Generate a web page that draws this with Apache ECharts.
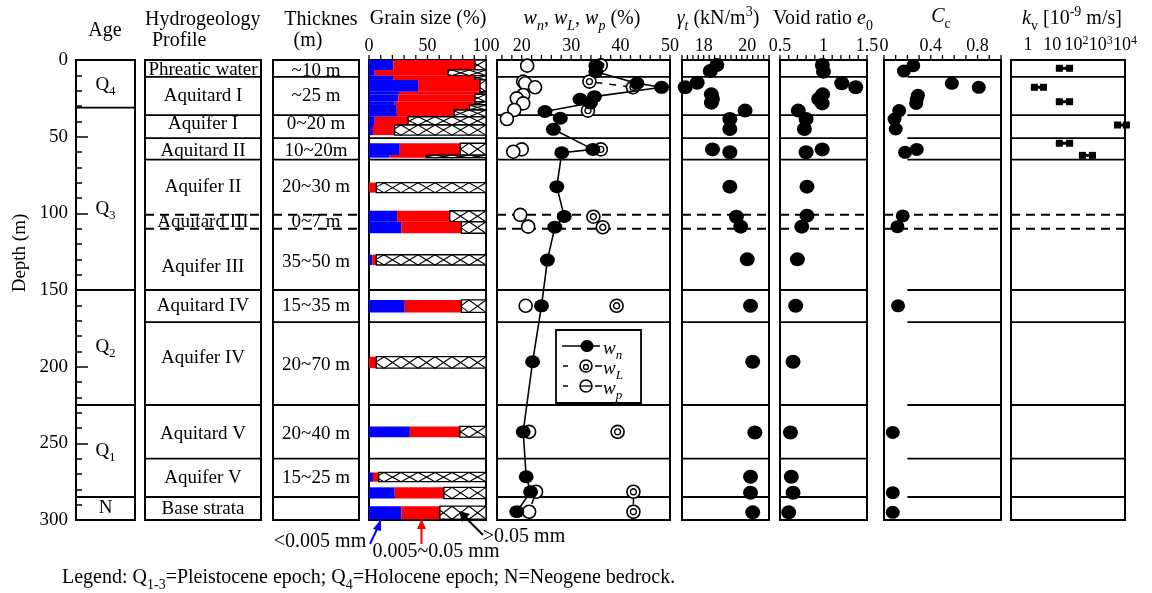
<!DOCTYPE html>
<html><head><meta charset="utf-8">
<script src="https://cdn.jsdelivr.net/npm/echarts@6/dist/echarts.min.js"></script>
<style>html,body{margin:0;padding:0;background:#fff}#c{width:1152px;height:593px}</style>
</head><body><div id="c"></div>
<script>
// ================= DATA =================
const layerBounds = [11, 36, 51, 65, 150, 171, 225, 260, 285];
const dashedBounds = [101, 110];
const ageBounds = [31, 150, 225, 285];
const ageLabels = ['{n|Q}{b|4}', '{n|Q}{b|3}', '{n|Q}{b|2}', '{n|Q}{b|1}', '{n|N}'];
const ageLabelDepth = [16, 97, 187, 255, 292];
const profileNames = ['Phreatic water','Aquitard I','Aquifer I','Aquitard II','Aquifer II','Aquitard III','Aquifer III','Aquitard IV','Aquifer IV','Aquitard V','Aquifer V','Base strata'];
const profileDepth = [6.5, 23.5, 41.7, 59.4, 82.8, 105.7, 135, 160.5, 194.4, 244, 272.7, 292.9];
const thicknessTexts = ['~10 m','~25 m','0~20 m','10~20m','20~30 m','0~7 m','35~50 m','15~35 m','20~70 m','20~40 m','15~25 m'];
const thicknessDepth = [7.2, 23.5, 41.7, 59.4, 82.8, 105.7, 131.8, 160.5, 198.9, 244, 272.7];

// grain size rows: depth top/bottom, clay (<0.005mm) %, silt (0.005~0.05mm) %; rest = sand (>0.05mm)
const grainTop    = [0, 6.5, 10.2, 13, 20.7, 22.4, 27.2, 29.3, 32.6, 37, 42.4, 54.3, 62, 80, 98.3, 105.5, 127, 156.5, 193.5, 239, 269, 278.7, 291];
const grainBottom = [6.5, 10.2, 13, 20.7, 22.4, 27.2, 29.3, 32.6, 37, 42.4, 49, 62, 63.7, 86.5, 105.5, 113, 133.7, 164.6, 201, 246, 275, 286, 299.5];
const grainClay   = [20.8, 4.9, 20.8, 42, 26.3, 25, 22, 23.7, 23.7, 4.9, 3.4, 26.3, 17.7, 0, 24, 27.7, 2.9, 30.6, 0, 34.9, 3.4, 22, 27.7];
const grainSilt   = [69.8, 62.8, 69.8, 52.9, 68.6, 65.6, 68.6, 62.3, 49.2, 28.5, 18.6, 51.7, 31.3, 6.3, 45, 51.3, 3.4, 48.4, 6.3, 42.8, 4.9, 42, 32.9];

const wnDepth = [3.7, 7.6, 15.2, 17.8, 23.9, 25.6, 28, 33.6, 38, 45.2, 58.3, 60.5, 82.6, 102, 109, 130.5, 160.3, 196.8, 242.5, 271.8, 281.6, 294.6];
const wnValue = [35, 35, 43.3, 48.3, 34.7, 31.8, 33.9, 24.7, 27.8, 26.4, 34.4, 28.1, 27.1, 28.6, 26.7, 25.2, 24, 22.2, 20.3, 20.9, 21.8, 19];
const wLDepth = [3.5, 14.1, 17.8, 33, 58.3, 102.2, 109.1, 160.3, 242.5, 281.6, 294.6];
const wLValue = [36, 33.7, 42.5, 33.4, 36, 34.5, 36.4, 39.2, 39.4, 42.6, 42.6];
const wLLinks = [[1, 2], [9, 10]];
const wpDepth = [3.7, 14.1, 15.2, 17.8, 22.8, 25, 28.3, 32.6, 38.5, 58.3, 59.8, 101, 108.7, 160.3, 242.5, 281.6, 294.6];
const wpValue = [21.1, 20.3, 20.7, 22.7, 20.3, 19, 20.3, 18.5, 17, 20, 18.3, 19.7, 21.3, 20.8, 21.5, 22.9, 21.5];
const wpLinks = [[15, 16]];

const gammaDepth = [3.3, 7.2, 14.8, 17.8, 22.4, 25.4, 27.8, 33, 38.5, 45, 58.3, 60.2, 82.6, 102.2, 108.7, 130, 160.3, 196.8, 242.9, 271.8, 282.2, 295];
const gammaValue = [18.6, 18.3, 17.7, 17.15, 18.35, 18.4, 18.35, 19.9, 19.2, 19.2, 18.4, 19.2, 19.2, 19.5, 19.7, 20, 20.15, 20.25, 20.35, 20.15, 20.15, 20.25];
const e0Depth = [3.3, 7.6, 15.2, 17.8, 22.4, 25.4, 28.3, 33, 38.5, 45, 58.3, 60.2, 82.6, 101.5, 108.7, 130, 160.3, 196.8, 242.9, 271.8, 282.2, 295];
const e0Value = [0.987, 1.0, 1.21, 1.37, 0.99, 0.945, 0.985, 0.71, 0.80, 0.78, 0.985, 0.80, 0.81, 0.81, 0.75, 0.70, 0.68, 0.65, 0.62, 0.63, 0.65, 0.60];
const ccDepth = [3.7, 7.2, 15.2, 17.8, 23, 25.6, 28.3, 33, 38.5, 45, 58.3, 60.2, 101.7, 108.7, 160.3, 242.9, 282.2, 295];
const ccValue = [0.25, 0.17, 0.58, 0.81, 0.29, 0.28, 0.275, 0.13, 0.09, 0.10, 0.28, 0.18, 0.16, 0.115, 0.12, 0.075, 0.075, 0.075];
// kv [1e-9 m/s], log10 range per layer
const kvDepth = [5.4, 17.8, 27.2, 42.4, 54.3, 62.2];
const kvLogLow = [1.15, 0.12, 1.15, 3.55, 1.15, 2.1];
const kvLogHigh = [1.86, 0.78, 1.86, 4.2, 1.86, 2.8];

// axis tick labels
const grainTicks = [0, 50, 100];
const wTicks = [20, 30, 40, 50];
const gammaTicks = [18, 20];
const e0Ticks = [0.5, 1, 1.5];
const ccTicks = [0, 0.4, 0.8];
const kvTicks = [0, 1, 2, 3, 4];
const kvTickText = ['{a|1}', '{a|10}', '{a|10}{s|2}', '{a|10}{s|3}', '{a|10}{s|4}'];

// ================= LAYOUT / STYLE =================
const FONT = '"Liberation Serif","Times New Roman",serif';
const TOP = 60, H = 460;
const grids = [
  {left: 76, width: 59}, {left: 145, width: 116}, {left: 273, width: 86},
  {left: 369, width: 117}, {left: 497, width: 173}, {left: 682, width: 87},
  {left: 780, width: 87}, {left: 884, width: 117}, {left: 1011, width: 114}
];
const xRanges = [[0,1],[0,1],[0,1],[0,100],[15,50],[17,21],[0.5,1.5],[0,1],[-0.7,4]];
// minor tick spacing along the top of each panel: [start, end, step]
const tickSpec = [null, null, null, [0, 100, 10], [16, 50, 2], [17, 21, 0.25], [0.5, 1.5, 0.1], [0, 1, 0.1], null];
const labelSets = [null, null, null, grainTicks, wTicks, gammaTicks, e0Ticks, ccTicks, kvTicks];

function rs(fs) {
  const lh = fs + 8;
  const sm = Math.round(fs * 0.68), sl = Math.round(fs * 0.7);
  return {
    n: {fontSize: fs, fontFamily: FONT, color: '#000', fill: '#000', lineHeight: lh},
    i: {fontSize: fs, fontFamily: FONT, fontStyle: 'italic', color: '#000', fill: '#000', lineHeight: lh},
    b: {fontSize: sm, fontFamily: FONT, color: '#000', fill: '#000', lineHeight: sl, verticalAlign: 'bottom'},
    bi: {fontSize: sm, fontFamily: FONT, fontStyle: 'italic', color: '#000', fill: '#000', lineHeight: sl, verticalAlign: 'bottom'},
    p: {fontSize: sm, fontFamily: FONT, color: '#000', fill: '#000', lineHeight: sl, verticalAlign: 'top'}
  };
}
const kvRich = {
  a: {fontSize: 18, fontFamily: FONT, color: '#000', lineHeight: 20},
  s: {fontSize: 12, fontFamily: FONT, color: '#000', lineHeight: 10, verticalAlign: 'top'}
};

const gridOpt = grids.map(g => ({left: g.left, width: g.width, top: TOP, height: H, show: true, borderColor: '#000', borderWidth: 2, containLabel: false}));
const xAxisOpt = grids.map((g, i) => {
  const base = {gridIndex: i, type: 'value', min: xRanges[i][0], max: xRanges[i][1], position: 'top', splitLine: {show: false}};
  if (i < 3) return Object.assign(base, {show: false});
  return Object.assign(base, {
    axisLine: {show: true, lineStyle: {color: '#000', width: 2}},
    axisTick: {show: false},
    axisLabel: {show: true, customValues: labelSets[i], color: '#000', fontSize: 18, fontFamily: FONT, margin: 5,
      formatter: i === 8 ? (v => kvTickText[Math.round(v)]) : (v => String(v)), rich: i === 8 ? kvRich : undefined}
  });
});
const yAxisOpt = grids.map((g, i) => ({
  gridIndex: i, type: 'value', min: 0, max: 300, inverse: true, interval: 50, show: i === 0,
  axisLine: {show: false},
  axisTick: {show: true, inside: true, length: 12, lineStyle: {color: '#000', width: 1.5}},
  minorTick: {show: true, splitNumber: 5, length: 6, lineStyle: {color: '#000', width: 1.5}},
  axisLabel: {color: '#000', fontSize: 19, fontFamily: FONT, margin: 8},
  splitLine: {show: false}, minorSplitLine: {show: false}
}));

// ================= SERIES =================
const series = [];
function hLines(gi, xFrom, xTo, depths, dashed) {
  series.push({
    type: 'custom', xAxisIndex: gi, yAxisIndex: gi, silent: true, z: 1,
    data: depths.map(d => [d]),
    renderItem: (p, api) => {
      const a = api.coord([xFrom, api.value(0)]), b = api.coord([xTo, api.value(0)]);
      return {type: 'line', shape: {x1: a[0], y1: a[1], x2: b[0], y2: b[1]},
        style: {stroke: '#000', lineWidth: dashed ? 2 : 1.8, lineDash: dashed ? [9, 6] : null}};
    }
  });
}
function texts(gi, xv, depths, labels, fs) {
  series.push({
    type: 'custom', xAxisIndex: gi, yAxisIndex: gi, silent: true, z: 5,
    data: depths.map(d => [xv, d]),
    renderItem: (p, api) => {
      const c = api.coord([api.value(0), api.value(1)]);
      const t = labels[p.dataIndex];
      return {type: 'text', x: c[0], y: c[1],
        style: {text: t.indexOf('{') === 0 ? t : '{n|' + t + '}', align: 'center', verticalAlign: 'middle', rich: rs(fs), fill: '#000'}};
    }
  });
}
// top-edge ticks of each data panel, placed through the panel's own x scale
tickSpec.forEach((t, gi) => {
  if (!t) return;
  const vals = [];
  for (let k = 0; t[0] + k * t[2] <= t[1] + 1e-9; k++) vals.push(t[0] + k * t[2]);
  series.push({
    type: 'custom', xAxisIndex: gi, yAxisIndex: gi, silent: true, z: 6, clip: false,
    data: vals.map(v => [v]),
    renderItem: (p, api) => {
      const c = api.coord([api.value(0), 0]);
      return {type: 'line', shape: {x1: c[0], y1: c[1], x2: c[0], y2: c[1] - 5}, style: {stroke: '#000', lineWidth: 1.3}};
    }
  });
});
// age column
hLines(0, 0, 1, ageBounds, false);
texts(0, 0.5, ageLabelDepth, ageLabels, 19);
// profile & thickness
hLines(1, 0, 1, layerBounds, false); hLines(1, 0, 1, dashedBounds, true);
texts(1, 0.5, profileDepth, profileNames, 19);
hLines(2, 0, 1, layerBounds, false); hLines(2, 0, 1, dashedBounds, true);
texts(2, 0.5, thicknessDepth, thicknessTexts, 19);
// grain size
hLines(3, 0, 100, layerBounds, false);
series.push({
  type: 'custom', xAxisIndex: 3, yAxisIndex: 3, silent: true, z: 3,
  data: grainTop.map((t, i) => [t, grainBottom[i], grainClay[i], grainSilt[i]]),
  renderItem: (p, api) => {
    const t = api.value(0), b = api.value(1), cl = api.value(2), si = api.value(3);
    const p0 = api.coord([0, t]), p1 = api.coord([cl, b]), p2 = api.coord([cl + si, t]), p3 = api.coord([100, b]);
    const y0 = p0[1], y1 = p1[1];
    const ch = [];
    if (cl > 0) ch.push({type: 'rect', shape: {x: p0[0], y: y0, width: p1[0] - p0[0], height: y1 - y0}, style: {fill: '#0000ff'}});
    if (si > 0) ch.push({type: 'rect', shape: {x: p1[0], y: y0, width: p2[0] - p1[0], height: y1 - y0}, style: {fill: '#ff0000'}});
    const xs = p2[0], xe = p3[0];
    ch.push({type: 'rect', shape: {x: xs, y: y0, width: xe - xs, height: y1 - y0}, style: {fill: '#fff', stroke: '#000', lineWidth: 1.3}});
    const w = 17;
    function seg(xa, ya, xb, yb) {
      let ax = xa, ay = ya, bx = xb, by = yb;
      if (bx < xs) return; if (ax > xe) return;
      if (ax < xs) { ay = ay + (by - ay) * (xs - ax) / (bx - ax); ax = xs; }
      if (bx > xe) { by = ay + (by - ay) * (xe - ax) / (bx - ax); bx = xe; }
      ch.push({type: 'line', shape: {x1: ax, y1: ay, x2: bx, y2: by}, style: {stroke: '#000', lineWidth: 1.1}});
    }
    for (let x = xe; x > xs - w; x -= w) {
      seg(x - w, y0, x, y1);
      seg(x - w, y1, x, y0);
    }
    return {type: 'group', children: ch};
  }
});
// w panel
hLines(4, 15, 50, layerBounds, false); hLines(4, 15, 50, dashedBounds, true);
function linkData(depths, vals, links) {
  const d = [];
  links.forEach(l => { d.push([vals[l[0]], depths[l[0]]], [vals[l[1]], depths[l[1]]], ['-', '-']); });
  return d;
}
const solid = {color: '#000', opacity: 1};
series.push({type: 'line', xAxisIndex: 4, yAxisIndex: 4, z: 3, symbol: 'none', silent: true,
  data: linkData(wLDepth, wLValue, wLLinks), lineStyle: {color: '#000', width: 1.5, type: [7, 7], dashOffset: -6}});
series.push({type: 'line', xAxisIndex: 4, yAxisIndex: 4, z: 3, symbol: 'none', silent: true,
  data: linkData(wpDepth, wpValue, wpLinks), lineStyle: {color: '#000', width: 1.5, type: [7, 7], dashOffset: -6}});
series.push({type: 'scatter', xAxisIndex: 4, yAxisIndex: 4, z: 4, symbol: 'circle', symbolSize: 13,
  data: wpValue.map((v, i) => [v, wpDepth[i]]), itemStyle: {color: '#fff', borderColor: '#000', borderWidth: 1.6, opacity: 1}});
series.push({type: 'scatter', xAxisIndex: 4, yAxisIndex: 4, z: 4, symbol: 'circle', symbolSize: 13,
  data: wLValue.map((v, i) => [v, wLDepth[i]]), itemStyle: {color: '#fff', borderColor: '#000', borderWidth: 1.6, opacity: 1}});
series.push({type: 'scatter', xAxisIndex: 4, yAxisIndex: 4, z: 4, symbol: 'circle', symbolSize: 6,
  data: wLValue.map((v, i) => [v, wLDepth[i]]), itemStyle: {color: '#fff', borderColor: '#000', borderWidth: 1.4, opacity: 1}});
series.push({type: 'line', xAxisIndex: 4, yAxisIndex: 4, z: 5, symbol: 'circle', symbolSize: [15, 13],
  data: wnValue.map((v, i) => [v, wnDepth[i]]), lineStyle: {color: '#000', width: 1.6},
  itemStyle: {color: '#000', borderWidth: 0, opacity: 1}, showSymbol: true});
// gamma, e0, Cc
[[5, 17, 21, gammaDepth, gammaValue], [6, 0.5, 1.5, e0Depth, e0Value]].forEach(s => {
  hLines(s[0], s[1], s[2], layerBounds, false); hLines(s[0], s[1], s[2], dashedBounds, true);
  series.push({type: 'scatter', xAxisIndex: s[0], yAxisIndex: s[0], z: 4, symbol: 'circle', symbolSize: [15, 14],
    data: s[4].map((v, i) => [v, s[3][i]]), itemStyle: solid});
});
hLines(7, 0.2, 1, layerBounds, false); hLines(7, 0, 1, dashedBounds, true);
series.push({type: 'scatter', xAxisIndex: 7, yAxisIndex: 7, z: 4, symbol: 'circle', symbolSize: [14, 13],
  data: ccValue.map((v, i) => [v, ccDepth[i]]), itemStyle: solid});
// kv
hLines(8, -0.7, 4, layerBounds, false); hLines(8, -0.7, 4, dashedBounds, true);
series.push({
  type: 'custom', xAxisIndex: 8, yAxisIndex: 8, silent: true, z: 4,
  data: kvDepth.map((d, i) => [kvLogLow[i], kvLogHigh[i], d]),
  renderItem: (p, api) => {
    const a = api.coord([api.value(0), api.value(2)]), b = api.coord([api.value(1), api.value(2)]);
    const sq = 7, hh = 7;
    return {type: 'group', children: [
      {type: 'line', shape: {x1: a[0], y1: a[1], x2: b[0], y2: b[1]}, style: {stroke: '#000', lineWidth: 3}},
      {type: 'rect', shape: {x: a[0], y: a[1] - hh / 2, width: sq, height: hh}, style: {fill: '#000'}},
      {type: 'rect', shape: {x: b[0] - sq, y: b[1] - hh / 2, width: sq, height: hh}, style: {fill: '#000'}}
    ]};
  }
});

// ================= GRAPHICS (titles, legend, annotations) =================
function gtext(x, y, t, fs, align, extra) {
  return Object.assign({type: 'text', x: x, y: y, z: 10, silent: true,
    style: {text: t, align: align || 'center', verticalAlign: 'middle', rich: rs(fs), fill: '#000'}}, extra || {});
}
const graphics = [
  gtext(105, 31, '{n|Age}', 20),
  gtext(145, 20, '{n|Hydrogeology}', 20, 'left'),
  gtext(152, 41, '{n|Profile}', 20, 'left'),
  gtext(321, 20, '{n|Thicknes}', 20),
  gtext(308, 41, '{n|(m)}', 20),
  gtext(428, 19, '{n|Grain size (%)}', 20),
  gtext(582, 19, '{i|w}{bi|n}{n|, }{i|w}{bi|L}{n|, }{i|w}{bi|p}{n| (%)}', 20),
  gtext(718, 19, '{i|γ}{bi|t}{n| (kN/m}{p|3}{n|)}', 20),
  gtext(823, 19, '{n|Void ratio }{i|e}{b|0}', 20),
  gtext(941, 17, '{i|C}{b|c}', 20),
  gtext(1072, 19, '{i|k}{b|v}{n| [10}{p|-9}{n| m/s]}', 20),
  gtext(20, 253, '{n|Depth (m)}', 19, 'center', {rotation: Math.PI / 2}),
  // w legend box
  {type: 'rect', z: 10, shape: {x: 556, y: 330, width: 85, height: 73}, style: {fill: '#fff', stroke: '#000', lineWidth: 1.8}},
  {type: 'line', z: 11, shape: {x1: 562, y1: 346, x2: 600, y2: 346}, style: {stroke: '#000', lineWidth: 1.6}},
  {type: 'ellipse', z: 11, shape: {cx: 587, cy: 346, rx: 6.5, ry: 6}, style: {fill: '#000'}},
  gtext(603, 349, '{i|w}{bi|n}', 19, 'left'),
  {type: 'line', z: 11, shape: {x1: 563, y1: 366, x2: 568, y2: 366}, style: {stroke: '#000', lineWidth: 1.5}},
  {type: 'line', z: 11, shape: {x1: 595, y1: 366, x2: 602, y2: 366}, style: {stroke: '#000', lineWidth: 1.5}},
  {type: 'circle', z: 11, shape: {cx: 586, cy: 366, r: 6}, style: {fill: '#fff', stroke: '#000', lineWidth: 1.6}},
  {type: 'circle', z: 11, shape: {cx: 586, cy: 367, r: 2.5}, style: {fill: '#fff', stroke: '#000', lineWidth: 1.3}},
  gtext(603, 369, '{i|w}{bi|L}', 19, 'left'),
  {type: 'line', z: 11, shape: {x1: 563, y1: 386, x2: 568, y2: 386}, style: {stroke: '#000', lineWidth: 1.5}},
  {type: 'line', z: 11, shape: {x1: 595, y1: 386, x2: 602, y2: 386}, style: {stroke: '#000', lineWidth: 1.5}},
  {type: 'circle', z: 11, shape: {cx: 586, cy: 386, r: 6}, style: {fill: '#fff', stroke: '#000', lineWidth: 1.6}},
  {type: 'line', z: 11, shape: {x1: 580, y1: 386, x2: 592, y2: 386}, style: {stroke: '#000', lineWidth: 1.3}},
  gtext(603, 389, '{i|w}{bi|p}', 19, 'left'),
  // grain size annotations
  gtext(320, 542, '{n|<0.005 mm}', 20),
  gtext(436, 552, '{n|0.005~0.05 mm}', 20),
  gtext(524, 537, '{n|>0.05 mm}', 20),
  {type: 'line', z: 11, shape: {x1: 370, y1: 544, x2: 378, y2: 527}, style: {stroke: '#0000ff', lineWidth: 2}},
  {type: 'polygon', z: 11, shape: {points: [[381, 519], [373, 529], [381, 531]]}, style: {fill: '#0000ff'}},
  {type: 'line', z: 11, shape: {x1: 421.5, y1: 544, x2: 421.5, y2: 527}, style: {stroke: '#ff0000', lineWidth: 2}},
  {type: 'polygon', z: 11, shape: {points: [[421.5, 519], [417, 529], [426, 529]]}, style: {fill: '#ff0000'}},
  {type: 'line', z: 11, shape: {x1: 483, y1: 535, x2: 466, y2: 518}, style: {stroke: '#000', lineWidth: 2}},
  {type: 'polygon', z: 11, shape: {points: [[459, 511], [462, 522], [470, 514]]}, style: {fill: '#000'}},
  // bottom legend
  gtext(62, 578, '{n|Legend: Q}{b|1-3}{n|=Pleistocene epoch; Q}{b|4}{n|=Holocene epoch; N=Neogene bedrock.}', 20, 'left')
];

const chart = echarts.init(document.getElementById('c'), null, {renderer: 'canvas'});
chart.setOption({
  backgroundColor: '#fff', animation: false,
  grid: gridOpt, xAxis: xAxisOpt, yAxis: yAxisOpt,
  series: series, graphic: graphics
});
</script></body></html>
